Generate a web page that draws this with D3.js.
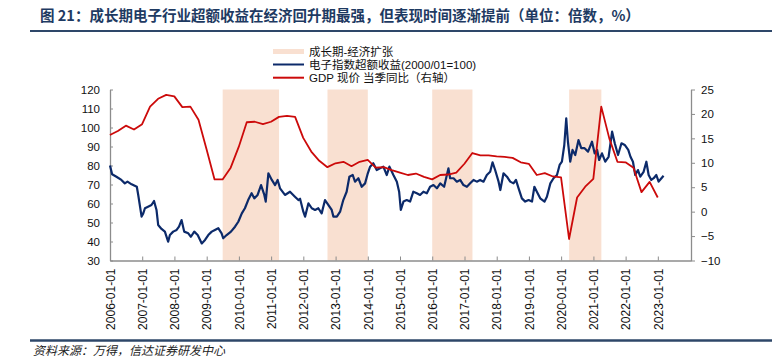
<!DOCTYPE html>
<html>
<head>
<meta charset="utf-8">
<script src="https://cdn.jsdelivr.net/npm/d3@7"></script>
<style>
body { margin: 0; background: #fff; }
text { font-family: "Liberation Sans", Arial, sans-serif; }
.cjk { font-family: "Noto Sans CJK SC", "Noto Sans", sans-serif; }
.lg { font-family: "Liberation Sans", "Noto Sans CJK SC", sans-serif; }
</style>
</head>
<body>
<script>
// electronics excess-return index (left axis)
var blueDates = ["2006-01-01","2006-01-25","2006-03-15","2006-05-10","2006-06-18","2006-07-18","2006-09-03","2006-11-01","2006-11-17","2006-12-25",
  "2007-01-13","2007-02-01","2007-03-08","2007-04-16","2007-05-15","2007-06-12","2007-07-01","2007-08-08","2007-09-15","2007-10-22","2007-11-11","2007-12-18",
  "2008-01-26","2008-02-22","2008-03-22","2008-04-21","2008-06-06","2008-07-06","2008-08-13","2008-09-21","2008-11-06","2008-12-13",
  "2009-01-19","2009-02-27","2009-04-04","2009-05-12","2009-06-19","2009-07-07","2009-08-15","2009-10-03","2009-11-18","2009-12-25",
  "2010-02-03","2010-03-10","2010-04-16","2010-05-25","2010-06-24","2010-08-01","2010-09-09","2010-10-16","2010-11-01","2010-12-01",
  "2011-01-09","2011-02-15","2011-03-16","2011-04-12","2011-06-07","2011-08-03","2011-09-28","2011-11-06","2011-11-25",
  "2012-01-01","2012-01-21","2012-02-28","2012-04-06","2012-05-13","2012-06-19","2012-07-27","2012-09-03","2012-10-12","2012-11-18","2012-12-07",
  "2013-01-15","2013-02-21","2013-03-29","2013-05-06","2013-06-06","2013-07-14","2013-08-09","2013-09-16","2013-10-24","2013-12-01",
  "2014-01-01","2014-01-27","2014-03-04","2014-04-12","2014-05-19","2014-06-26","2014-08-04","2014-09-03","2014-10-18","2014-11-26","2014-12-22",
  "2015-01-10","2015-02-09","2015-03-18","2015-04-25","2015-06-01","2015-07-10","2015-08-16","2015-09-23","2015-11-01","2015-12-08",
  "2016-01-15","2016-02-23","2016-04-01","2016-05-15","2016-07-03","2016-07-22","2016-08-30","2016-10-06","2016-11-13","2016-12-20",
  "2017-01-28","2017-03-06","2017-04-13","2017-05-20","2017-06-27","2017-08-04","2017-09-11","2017-10-19","2017-11-15","2017-12-15",
  "2018-01-22","2018-02-11","2018-03-19","2018-04-27","2018-06-03","2018-07-10","2018-08-07","2018-09-06","2018-10-13","2018-11-20","2018-12-28",
  "2019-02-05","2019-03-04","2019-04-01","2019-05-09","2019-06-27","2019-07-24","2019-09-01","2019-10-07","2019-11-15","2019-12-15",
  "2020-01-10","2020-02-06","2020-02-28","2020-03-18","2020-04-13","2020-05-09","2020-06-09","2020-07-16","2020-08-16","2020-09-23","2020-11-01","2020-12-16",
  "2021-01-15","2021-02-12","2021-03-07","2021-04-08","2021-05-15","2021-06-22","2021-08-01","2021-08-31","2021-10-07","2021-11-15","2021-12-22",
  "2022-01-31","2022-02-25","2022-03-25","2022-04-20","2022-05-21","2022-06-16","2022-07-24","2022-08-24","2022-09-19","2022-10-19","2022-11-15","2022-12-15",
  "2023-01-10","2023-02-11","2023-03-07"];
var blueValues = [80.0,75.4,74.1,72.4,70.6,71.5,70.1,68.8,64.5,53.1,
  54.8,57.5,58.3,59.2,61.3,56.6,48.7,46.6,45.2,39.9,43.4,45.2,
  46.1,47.8,51.3,45.2,44.3,42.5,45.2,43.4,39.0,40.8,
  43.4,45.2,46.1,47.0,44.3,41.7,43.4,45.2,47.8,50.4,
  54.8,57.5,61.8,65.4,62.7,64.5,69.7,64.5,61.0,75.9,
  72.4,69.7,72.4,68.0,64.5,66.2,63.6,61.8,62.5,
  55.7,53.1,60.1,57.5,56.6,57.5,54.8,61.8,59.2,56.6,53.1,
  53.1,55.7,61.8,66.2,74.1,75.0,71.5,73.3,68.8,70.6,
  75.9,79.4,81.2,77.6,78.5,79.4,75.0,79.4,75.0,71.5,66.2,
  56.6,61.0,61.8,61.0,66.2,65.4,64.5,66.2,65.4,68.8,
  69.7,68.0,70.6,68.8,78.5,73.3,73.3,71.5,72.4,69.7,
  68.8,70.6,72.4,71.5,72.4,71.5,75.0,76.7,81.7,77.5,
  71.5,67.1,75.9,74.1,71.5,70.6,72.4,68.0,62.7,61.0,61.8,
  61.0,68.8,66.2,62.7,61.0,63.6,70.6,73.3,75.0,80.3,
  82.0,90.8,104.8,92.5,82.0,88.2,85.5,93.4,89.1,89.1,87.3,92.5,
  86.4,88.2,82.9,86.4,82.0,84.6,97.8,91.7,85.5,91.7,90.8,
  88.2,84.6,82.0,75.0,77.6,74.1,76.7,82.0,75.0,72.4,73.3,75.0,
  71.5,73.3,74.6];

// nominal GDP yoy, quarterly (right axis)
var gdpDates = ["2005-12-31",
  "2006-03-31","2006-06-30","2006-09-30","2006-12-31","2007-03-31","2007-06-30","2007-09-30","2007-12-31",
  "2008-03-31","2008-06-30","2008-09-30","2008-12-31","2009-03-31","2009-06-30","2009-09-30","2009-12-31",
  "2010-03-31","2010-06-30","2010-09-30","2010-12-31","2011-03-31","2011-06-30","2011-09-30","2011-12-31",
  "2012-03-31","2012-06-30","2012-09-30","2012-12-31","2013-03-31","2013-06-30","2013-09-30","2013-12-31",
  "2014-03-31","2014-06-30","2014-09-30","2014-12-31","2015-03-31","2015-06-30","2015-09-30","2015-12-31",
  "2016-03-31","2016-06-30","2016-09-30","2016-12-31","2017-03-31","2017-06-30","2017-09-30","2017-12-31",
  "2018-03-31","2018-06-30","2018-09-30","2018-12-31","2019-03-31","2019-06-30","2019-09-30","2019-12-31",
  "2020-03-31","2020-06-30","2020-09-30","2020-12-31","2021-03-31","2021-06-30","2021-09-30","2021-12-31",
  "2022-03-31","2022-06-30","2022-09-30","2022-12-31"];
var gdpValues = [15.7,
  16.5,17.6,16.8,17.9,21.5,23.1,23.9,23.6,
  21.4,21.5,18.8,12.7,6.6,6.6,9.0,13.3,
  18.3,18.4,17.9,18.4,19.4,19.6,19.4,15.1,
  12.3,10.4,9.1,9.9,10.2,9.3,10.2,10.6,
  9.0,9.1,8.5,8.0,7.5,7.8,7.1,6.6,
  7.5,7.6,8.0,9.8,12.0,11.5,11.5,11.3,
  11.2,11.0,10.1,9.8,7.5,7.9,7.2,7.0,
  -5.6,2.9,5.1,6.7,21.5,15.0,10.2,10.1,
  9.0,4.0,6.1,2.9];

// growth phase / economic expansion shading
var bandStart = ["2009-07-01","2012-10-01","2016-01-01","2020-04-01"];
var bandEnd   = ["2011-04-01","2014-01-01","2017-04-01","2021-04-01"];

var xTickLabels = ["2006-01-01","2007-01-01","2008-01-01","2009-01-01","2010-01-01","2011-01-01","2012-01-01","2013-01-01","2014-01-01",
  "2015-01-01","2016-01-01","2017-01-01","2018-01-01","2019-01-01","2020-01-01","2021-01-01","2022-01-01","2023-01-01"];
var leftTicks = [30,40,50,60,70,80,90,100,110,120];
var rightTicks = [-10,-5,0,5,10,15,20,25];

var legendLabels = ["成长期-经济扩张", "电子指数超额收益(2000/01=100)", "GDP 现价 当季同比（右轴）"];
var titleText = "图 21：成长期电子行业超额收益在经济回升期最强，但表现时间逐渐提前（单位：倍数，%）";
var sourceText = "资料来源：万得，信达证券研发中心";

var W = 772, H = 364;
var margin = {top: 89.5, right: 81, bottom: 103.5, left: 110},
    width = W - margin.left - margin.right,
    height = H - margin.top - margin.bottom;

var parse = d3.timeParse("%Y-%m-%d");
var navy = "#0c2a6a", red = "#cc0a0a", band = "#f9e0d1", axisGrey = "#8c8c8c", rule = "#2e4769";

var blue = blueDates.map(function(d, i) { return [parse(d), blueValues[i]]; });
var gdp = gdpDates.map(function(d, i) { return [parse(d), gdpValues[i]]; });

var xScale = d3.scaleTime().domain([parse("2006-01-01"), parse("2024-01-12")]).range([0, width]);
var yLeft = d3.scaleLinear().domain([30, 120]).range([height, 0]);
var yRight = d3.scaleLinear().domain([-10, 25]).range([height, 0]);

var root = d3.select("body").append("svg")
    .attr("width", W)
    .attr("height", H);

// title + rules
root.append("text")
    .attr("class", "cjk")
    .attr("x", 40).attr("y", 16)
    .attr("dy", "0.35em")
    .style("font-size", "14.5px")
    .style("font-weight", "bold")
    .attr("fill", "#1e3a62")
    .text(titleText);
root.append("line").attr("x1", 30).attr("x2", W).attr("y1", 31).attr("y2", 31)
    .attr("stroke", rule).attr("stroke-width", 2);
root.append("line").attr("x1", 30).attr("x2", W).attr("y1", 340.5).attr("y2", 340.5)
    .attr("stroke", rule).attr("stroke-width", 2.5);
root.append("text")
    .attr("class", "cjk")
    .attr("x", 33).attr("y", 350.5)
    .attr("dy", "0.35em")
    .style("font-size", "12px")
    .style("font-style", "italic")
    .attr("fill", "#222")
    .text(sourceText);

// legend
var legendY = [51.5, 64.5, 77.7];
var legend = root.append("g").attr("transform", "translate(273,0)");
legend.append("rect").attr("x", 0).attr("y", legendY[0] - 2.5).attr("width", 31).attr("height", 5).attr("fill", band);
legend.append("line").attr("x1", 0).attr("x2", 31).attr("y1", legendY[1]).attr("y2", legendY[1]).attr("stroke", navy).attr("stroke-width", 2);
legend.append("line").attr("x1", 0).attr("x2", 31).attr("y1", legendY[2]).attr("y2", legendY[2]).attr("stroke", red).attr("stroke-width", 2);
legend.selectAll(".lg")
    .data(legendLabels)
    .enter()
    .append("text")
    .attr("class", "lg")
    .attr("x", 36)
    .attr("y", function(d, i) { return legendY[i]; })
    .attr("dy", "0.35em")
    .style("font-size", "11.5px")
    .attr("fill", "#111")
    .text(function(d) { return d; });

var svg = root.append("g")
    .attr("transform", "translate(" + margin.left + "," + margin.top + ")");

// shaded periods
svg.selectAll(".band")
    .data(bandStart)
    .enter()
    .append("rect")
    .attr("class", "band")
    .attr("x", function(d) { return xScale(parse(d)); })
    .attr("width", function(d, i) { return xScale(parse(bandEnd[i])) - xScale(parse(d)); })
    .attr("y", 0)
    .attr("height", height)
    .attr("fill", band);

// x-axis
var xAxis = svg.append("g")
    .attr("transform", "translate(0," + height + ")")
    .call(d3.axisBottom(xScale)
      .tickValues(xTickLabels.map(parse))
      .tickSize(-4)
      .tickSizeOuter(0)
      .tickFormat(d3.timeFormat("%Y-%m-%d")));
xAxis.selectAll("text")
    .attr("transform", "rotate(-90)")
    .attr("x", -8)
    .attr("y", 0)
    .attr("dy", "0.35em")
    .style("text-anchor", "end")
    .style("font-size", "12px")
    .attr("fill", "#111");

// left axis
var leftAxis = svg.append("g")
    .call(d3.axisLeft(yLeft).tickValues(leftTicks).tickSize(-3).tickSizeOuter(0).tickPadding(10));
leftAxis.selectAll("text").style("font-size", "11.5px").attr("fill", "#111");

// right axis
var rightAxis = svg.append("g")
    .attr("transform", "translate(" + width + ",0)")
    .call(d3.axisRight(yRight).tickValues(rightTicks).tickSize(4).tickSizeOuter(0).tickPadding(6));
rightAxis.selectAll("text").style("font-size", "11.5px").attr("fill", "#111");

[xAxis, leftAxis, rightAxis].forEach(function(a) {
  a.select(".domain").attr("stroke", axisGrey).attr("stroke-width", 1.3);
  a.selectAll(".tick line").attr("stroke", axisGrey);
});

// lines
var blueLine = d3.line()
    .x(function(d) { return xScale(d[0]); })
    .y(function(d) { return yLeft(d[1]); });
var gdpLine = d3.line()
    .x(function(d) { return xScale(d[0]); })
    .y(function(d) { return yRight(d[1]); });

svg.append("path")
    .attr("d", blueLine(blue))
    .attr("fill", "none")
    .attr("stroke", navy)
    .attr("stroke-width", 2.2)
    .attr("stroke-linejoin", "round");

svg.append("path")
    .attr("d", gdpLine(gdp))
    .attr("fill", "none")
    .attr("stroke", red)
    .attr("stroke-width", 1.8)
    .attr("stroke-linejoin", "round");
</script>
</body>
</html>
